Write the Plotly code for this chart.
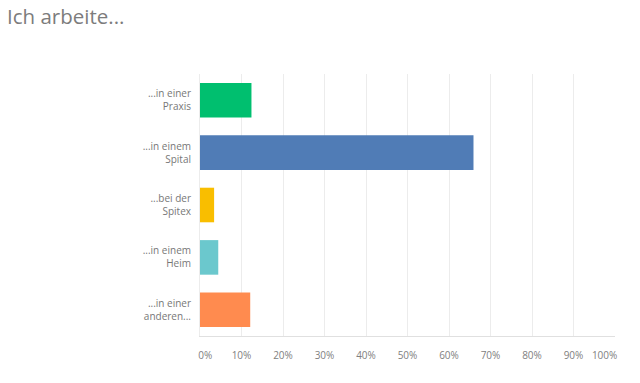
import plotly.graph_objects as go

categories = ["...in einer<br>Praxis", "...in einem<br>Spital", "...bei der<br>Spitex", "...in einem<br>Heim", "...in einer<br>anderen..."]
values = [12.4, 65.9, 3.4, 4.4, 12.1]
colors = ["#00bf6f", "#507cb6", "#f9be00", "#6bc8cd", "#ff8b4f"]
tick_vals = [0, 10, 20, 30, 40, 50, 60, 70, 80, 90, 100]
tick_text = [f"{v}%" for v in tick_vals]
tick_text[0] = "\u00a0\u00a0\u00a0\u00a0" + tick_text[0]
tick_text[-1] = tick_text[-1] + "\u00a0" * 8

fig = go.Figure(go.Bar(
    y=categories, x=values, orientation="h",
    marker=dict(color=colors, line=dict(width=0)),
    hoverinfo="skip",
))

fig.update_layout(
    width=640, height=383,
    margin=dict(l=200, r=25, t=74, b=47, autoexpand=False),
    paper_bgcolor="white", plot_bgcolor="white",
    bargap=0.34,
    showlegend=False,
    font=dict(family="Open Sans", color="#777777", size=10),
    title=dict(text="Ich arbeite...", x=0.011, xanchor="left", y=0.956, yanchor="middle",
               font=dict(family="Open Sans", size=20.5, color="#7c7c7c", weight=400)),
)
fig.update_xaxes(range=[0, 100], tickvals=tick_vals, ticktext=tick_text,
                 showgrid=True, gridcolor="#ececec", gridwidth=1,
                 zeroline=False, showline=True, linecolor="#e0e0e0", mirror=False,
                 ticks="", ticklabelstandoff=10, tickfont=dict(size=10, color="#808080"),
                 automargin=False, fixedrange=True)
fig.update_yaxes(autorange="reversed", showgrid=False, zeroline=False,
                 showline=True, linecolor="#ececec", ticks="",
                 ticklabelstandoff=6, tickfont=dict(size=10, color="#777777"),
                 automargin=False, fixedrange=True)

fig.write_html("out.html")
